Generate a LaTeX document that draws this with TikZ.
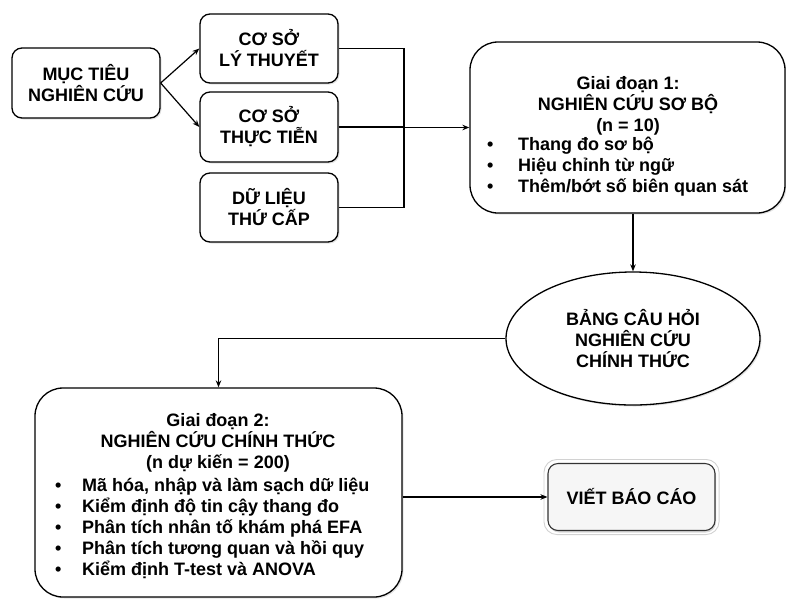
\documentclass[tikz,border=0pt]{standalone}
\usepackage{fontspec}
\setmainfont{Liberation Sans}
\usetikzlibrary{arrows.meta,shapes.geometric,shadows}

\begin{document}
\begin{tikzpicture}[x=1pt,y=-1pt,
  every node/.style={font=\fontsize{18}{21}\selectfont\bfseries},
  shade/.style={drop shadow={opacity=0.22,shadow xshift=1.5pt,shadow yshift=-1.5pt}},
  box/.style={draw, line width=1.3pt, rounded corners=10pt, align=center, inner sep=0pt, fill=white, shade},
  bigbox/.style={draw, line width=1.3pt, rounded corners=28pt, inner sep=0pt, fill=white, shade},
  oval/.style={draw, ellipse, line width=1.3pt, align=center, inner sep=0pt, fill=white, shade},
  txt/.style={inner sep=0pt},
  conn/.style={line width=1.2pt},
  arr/.style={line width=1.2pt, -{Stealth[length=7pt,width=5.5pt]}},
  endbox/.style={draw=black!80, line width=1.1pt, rounded corners=10pt, align=center, inner sep=0pt, fill=gray!7, drop shadow={opacity=0.3,shadow xshift=1pt,shadow yshift=-2pt}},
  halo/.style={draw=gray!35, line width=0.9pt, rounded corners=13pt}
]
\useasboundingbox (0,0) rectangle (786,598);

% top-left boxes
\node[box, minimum width=148pt, minimum height=70pt] (muc) at (86,83) {MỤC TIÊU\\NGHIÊN CỨU};
\node[box, minimum width=138pt, minimum height=69pt] (ly) at (269,48.5) {CƠ SỞ\\LÝ THUYẾT};
\node[box, minimum width=138pt, minimum height=70pt] (thuc) at (269,127) {CƠ SỞ\\THỰC TIỄN};
\node[box, minimum width=138pt, minimum height=69pt] (du) at (269,207.5) {DỮ LIỆU\\THỨ CẤP};

% stage 1
\node[bigbox, minimum width=315pt, minimum height=171pt] (gd1) at (627.5,127.5) {};
\node[txt, align=center] (gd1h) at (628,106) {Giai đoạn 1:\\NGHIÊN CỨU SƠ BỘ\\(n = 10)};
\node[txt, align=left, anchor=west] (gd1l) at (487,166.5) {\makebox[31pt][l]{•}Thang đo sơ bộ\\\makebox[31pt][l]{•}Hiệu chỉnh từ ngữ\\\makebox[31pt][l]{•}Thêm/bớt số biên quan sát};

% questionnaire
\node[oval, minimum width=254pt, minimum height=133pt] (ell) at (633,338.5) {BẢNG CÂU HỎI\\NGHIÊN CỨU\\CHÍNH THỨC};

% stage 2
\node[bigbox, minimum width=367pt, minimum height=209pt] (gd2) at (218.5,492.5) {};
\node[txt, align=center] (gd2h) at (218,443) {Giai đoạn 2:\\NGHIÊN CỨU CHÍNH THỨC\\(n dự kiến = 200)};
\node[txt, align=left, anchor=west] (gd2l) at (55,528.5) {\makebox[27pt][l]{•}Mã hóa, nhập và làm sạch dữ liệu\\\makebox[27pt][l]{•}Kiểm định độ tin cậy thang đo\\\makebox[27pt][l]{•}Phân tích nhân tố khám phá EFA\\\makebox[27pt][l]{•}Phân tích tương quan và hồi quy\\\makebox[27pt][l]{•}Kiểm định T-test và ANOVA};

% report
\node[endbox, minimum width=167pt, minimum height=67pt] (viet) at (631.5,497) {VIẾT BÁO CÁO};
\draw[halo] ([shift={(-3.5,-3.5)}]viet.north west) rectangle ([shift={(3.5,3.5)}]viet.south east);

% connectors
\coordinate (j) at (404,127.5);
\draw[arr] (muc.east) -- (ly.west);
\draw[arr] (muc.east) -- (thuc.west);
\draw[conn] (ly.east) -| (j);
\draw[conn] (du.east) -| (j);
\draw[conn] (thuc.east) -- (thuc.east -| j);
\draw[arr] (j) -- (gd1.west);
\draw[arr] (gd1.south -| ell.north) -- (ell.north);
\draw[arr] (ell.west) -| (gd2.north);
\draw[arr] (gd2.east |- viet.west) -- (viet.west);
\end{tikzpicture}
\end{document}
